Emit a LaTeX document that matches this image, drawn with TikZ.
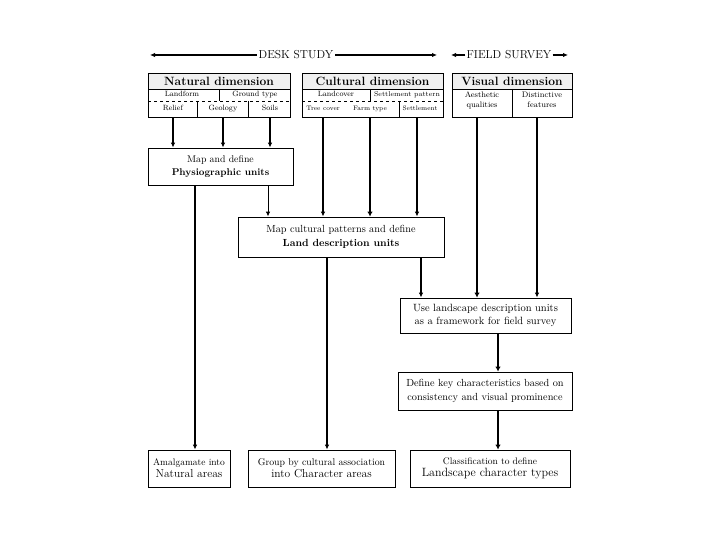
\documentclass[tikz,border=0pt]{standalone}
\usetikzlibrary{arrows.meta}

\tikzset{
  box/.style={draw, line width=0.8pt, align=center, inner sep=0pt},
  arr/.style={-{Latex[length=5pt,width=4.5pt]}, line width=1.3pt},
  thinarr/.style={arr, line width=1pt},
  heavyarr/.style={-{Latex[length=5pt,width=5.5pt]}, line width=2.6pt},
  hdr/.style={-{Latex[length=5pt,width=4.5pt]}, line width=1.6pt},
  cell/.style={inner sep=0pt, align=center, text height=5.5pt, text depth=1.5pt, font=\fontsize{7.6}{9}\selectfont},
  smallcell/.style={cell, font=\fontsize{6.5}{8}\selectfont},
  dimtitle/.style={box, fill=gray!12, minimum height=16pt, anchor=north, font=\fontsize{12}{13}\selectfont\bfseries},
  mainbox/.style={box, font=\fontsize{10.5}{13.5}\selectfont},
}

\begin{document}
\begin{tikzpicture}[x=1pt, y=-1pt]
\useasboundingbox (0,0) rectangle (720,540);

% header
\node[font=\fontsize{11.5}{12}\selectfont, inner sep=2pt] (desk) at (296,55) {DESK STUDY};
\coordinate (deskL) at (150,55);
\coordinate (deskR) at (437,55);
\draw[hdr] (desk.west) -- (deskL);
\draw[hdr] (desk.east) -- (deskR);
\node[font=\fontsize{11.5}{12}\selectfont, inner sep=1pt] (field) at (509,55) {FIELD SURVEY};
\coordinate (fieldL) at (451,55);
\coordinate (fieldR) at (568,55);
\draw[hdr] (field.west) -- (fieldL);
\draw[hdr] (field.east) -- (fieldR);

% natural dimension
\node[box, minimum width=142pt, minimum height=44pt] (natural) at (219,95) {};
\node[dimtitle, minimum width=142pt] (natT) at (natural.north) {Natural dimension};
\node[cell] (landform) at (182,95) {Landform};
\node[cell] (ground) at (255,95) {Ground type};
\draw (219,89) -- (219,101);
\draw[dashed] (148,101) -- (290,101);
\node[cell] (relief) at (173,109) {Relief};
\node[cell] (geology) at (223,109) {Geology};
\node[cell] (soils) at (270,109) {Soils};
\draw (197,101) -- (197,117);
\draw (248,101) -- (248,117);

% cultural dimension
\node[box, minimum width=141pt, minimum height=44pt] (cultural) at (372.5,95) {};
\node[dimtitle, minimum width=141pt] (culT) at (cultural.north) {Cultural dimension};
\node[cell] (landcover) at (336,95) {Landcover};
\node[cell, font=\fontsize{7}{9}\selectfont] (settlepat) at (407,95) {Settlement pattern};
\draw (370,89) -- (370,101);
\draw[dashed] (302,101) -- (443,101);
\node[smallcell] (tree) at (323,109) {Tree cover};
\node[smallcell] (farm) at (370,109) {Farm type};
\node[smallcell] (settle) at (420,109) {Settlement};
\draw (399,101) -- (399,117);

% visual dimension
\node[box, minimum width=120pt, minimum height=44pt] (visual) at (512,95) {};
\node[dimtitle, minimum width=120pt] (visT) at (visual.north) {Visual dimension};
\node[cell, text height=, text depth=, font=\fontsize{8}{10}\selectfont] (aesth) at (482,100) {Aesthetic\\qualities};
\node[cell, text height=, text depth=, font=\fontsize{8}{10}\selectfont] (distinct) at (542,100) {Distinctive\\features};
\draw (512,89) -- (512,117);

% process boxes
\node[mainbox, minimum width=145pt, minimum height=37pt, font=\fontsize{9.8}{13}\selectfont] (phys) at (220.5,166.5)
  {Map and define\\ \textbf{Physiographic units}};
\node[mainbox, minimum width=206pt, minimum height=40pt, font=\fontsize{10.3}{13.5}\selectfont] (land) at (341,237)
  {Map cultural patterns and define\\ \textbf{Land description units}};
\node[mainbox, minimum width=171pt, minimum height=35pt] (use) at (485.5,315.5)
  {Use landscape description units\\as a framework for field survey};
\node[mainbox, minimum width=174pt, minimum height=38pt, font=\fontsize{10.3}{13.5}\selectfont] (define) at (485,391)
  {Define key characteristics based on\\consistency and visual prominence};

% outcomes
\node[box, minimum width=82pt, minimum height=37pt] (amalg) at (189,468.5)
  {{\fontsize{9.5}{11}\selectfont Amalgamate into}\\{\fontsize{11.5}{13}\selectfont Natural areas}};
\node[box, minimum width=147pt, minimum height=37pt] (group) at (321.5,468.5)
  {{\fontsize{9.8}{11}\selectfont Group by cultural association}\\{\fontsize{11.5}{13}\selectfont into Character areas}};
\node[box, minimum width=160pt, minimum height=37pt] (classif) at (490,468.5)
  {{\fontsize{9.5}{11}\selectfont Classification to define}\\{\fontsize{12}{13}\selectfont Landscape character types}};

% connectors
\draw[arr] (relief |- natural.south) -- (relief |- phys.north);
\draw[arr] (geology |- natural.south) -- (geology |- phys.north);
\draw[arr] (soils |- natural.south) -- (soils |- phys.north);
\draw[arr] (tree |- cultural.south) -- (tree |- land.north);
\draw[heavyarr] (farm |- cultural.south) -- (farm |- land.north);
\draw[arr] ([xshift=-3pt]settle.south |- cultural.south) -- ([xshift=-3pt]settle.south |- land.north);
\draw[heavyarr] ([xshift=-5pt]aesth.south |- visual.south) -- ([xshift=-5pt]aesth.south |- use.north);
\draw[arr, line width=2pt] ([xshift=-5pt]distinct.south |- visual.south) -- ([xshift=-5pt]distinct.south |- use.north);
\draw[thinarr] ([xshift=47.5pt]phys.south) -- ([xshift=47.5pt]phys.south |- land.north);
\draw[arr] ([xshift=-25.5pt]phys.south) -- ([xshift=-25.5pt]phys.south |- amalg.north);
\draw[arr, line width=1.8pt] ([xshift=-14pt]land.south) -- ([xshift=-14pt]land.south |- group.north);
\draw[arr] ([xshift=80pt]land.south) -- ([xshift=80pt]land.south |- use.north);
\draw[heavyarr] ([xshift=12.5pt]use.south) -- ([xshift=12.5pt]use.south |- define.north);
\draw[heavyarr] ([xshift=13pt]define.south) -- ([xshift=13pt]define.south |- classif.north);

\end{tikzpicture}
\end{document}
